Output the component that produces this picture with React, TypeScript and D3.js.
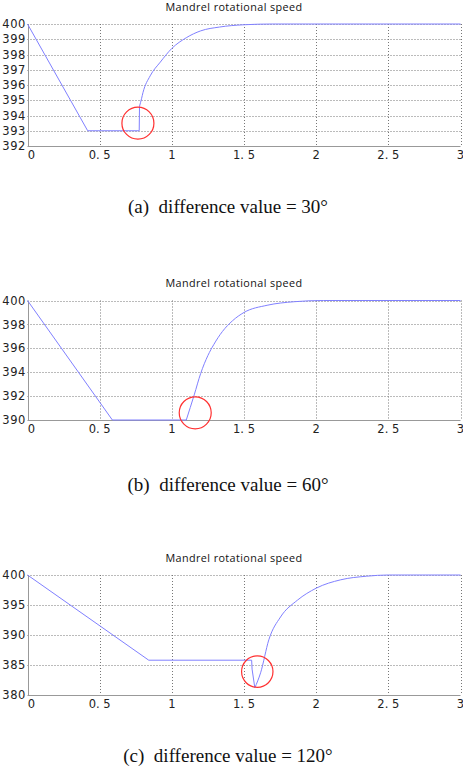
import * as d3 from "d3";

// ── Data ──────────────────────────────────────────────────────
const X_TICKS = [0, 0.5, 1, 1.5, 2, 2.5, 3];
const X_TICK_LABELS = ["0", "0. 5", "1", "1. 5", "2", "2. 5", "3"];

// (a) difference value = 30°
const T_A = [0, 0.417, 0.774, 0.776, 0.79, 0.80, 0.85, 0.92, 1.0, 1.1, 1.2, 1.33, 1.5, 1.7, 3];
const V_A = [400, 393, 393, 394.6, 395.1, 395.5, 396.6, 397.5, 398.4, 399.1, 399.55, 399.8, 399.95, 400, 400];
const Y_TICKS_A = [392, 393, 394, 395, 396, 397, 398, 399, 400];
const MARK_A = { t: 0.765, v: 393.5 };

// (b) difference value = 60°
const T_B = [0, 0.588, 1.10, 1.155, 1.2, 1.25, 1.29, 1.35, 1.42, 1.5, 1.66, 1.85, 2.05, 3];
const V_B = [400, 390, 390, 392.1, 393.9, 395.4, 396.3, 397.4, 398.3, 399.0, 399.6, 399.9, 400, 400];
const Y_TICKS_B = [390, 392, 394, 396, 398, 400];
const MARK_B = { t: 1.162, v: 390.6 };

// (c) difference value = 120°
const T_C = [0, 0.84, 1.553, 1.556, 1.575, 1.615, 1.672, 1.753, 1.87, 2.0, 2.17, 2.35, 2.5, 3];
const V_C = [400, 385.8, 385.8, 384.3, 381.2, 383.7, 389.2, 393, 395.8, 397.8, 399.2, 399.8, 400, 400];
const Y_TICKS_C = [380, 385, 390, 395, 400];
const MARK_C = { t: 1.592, v: 383.9 };

// index where the straight ramp/hold ends and the smooth recovery begins
const KNEE = [3, 2, 4];

const TITLE = "Mandrel rotational speed";
const CAPTIONS = ["(a)  difference value = 30°", "(b)  difference value = 60°", "(c)  difference value = 120°"];

// ── Layout ────────────────────────────────────────────────────
const W = 463;
const H = 767;
const LEFT = 27.5;
const RIGHT = 460.5;

interface Panel {
  t: number[];
  v: number[];
  knee: number;
  yTicks: number[];
  mark: { t: number; v: number };
  top: number;
  bottom: number;
  titleY: number;
  caption: string;
  captionY: number;
  r: number;
}

const PANELS: Panel[] = [
  { t: T_A, v: V_A, knee: KNEE[0], yTicks: Y_TICKS_A, mark: MARK_A, top: 24, bottom: 146, titleY: 10.5, caption: CAPTIONS[0], captionY: 213, r: 16 },
  { t: T_B, v: V_B, knee: KNEE[1], yTicks: Y_TICKS_B, mark: MARK_B, top: 300.5, bottom: 420, titleY: 286.5, caption: CAPTIONS[1], captionY: 490.5, r: 16 },
  { t: T_C, v: V_C, knee: KNEE[2], yTicks: Y_TICKS_C, mark: MARK_C, top: 575, bottom: 695, titleY: 561.5, caption: CAPTIONS[2], captionY: 762, r: 15.7 },
];

const LINE = "#8080ff";
const GRID = "#777";

function SpeedPanel({ p }: { p: Panel }) {
  const x = d3.scaleLinear().domain([0, 3]).range([LEFT, RIGHT]);
  const y = d3.scaleLinear().domain(d3.extent(p.yTicks) as [number, number]).range([p.bottom, p.top]);
  const pts: [number, number][] = p.t.map((t, i) => [t, p.v[i]]);
  const straight = d3
    .line<[number, number]>()
    .x((d) => x(d[0]))
    .y((d) => y(d[1]));
  const ramp = straight(pts.slice(0, p.knee + 1));
  const recovery = straight.curve(d3.curveMonotoneX)(pts.slice(p.knee));
  const snap = (n: number) => Math.round(n) + 0.5;

  return (
    <g>
      <text x={234} y={p.titleY} textAnchor="middle" fontFamily="'Open Sans', sans-serif" fontSize={10.8}
        letterSpacing={0.4} fill="#111">
        {TITLE}
      </text>

      {/* dotted grid */}
      {p.yTicks.slice(1).map((t) => (
        <line key={"gy" + t} x1={LEFT} x2={RIGHT} y1={snap(y(t))} y2={snap(y(t))}
          stroke={GRID} strokeDasharray="1,2" />
      ))}
      {X_TICKS.slice(1).map((t) => (
        <line key={"gx" + t} x1={snap(x(t))} x2={snap(x(t))} y1={p.top} y2={p.bottom}
          stroke={GRID} strokeDasharray="1,2" />
      ))}
      {/* axes */}
      <line x1={snap(LEFT)} x2={snap(LEFT)} y1={p.top} y2={snap(p.bottom)} stroke="#999" />
      <line x1={LEFT} x2={RIGHT} y1={snap(p.bottom)} y2={snap(p.bottom)} stroke="#999" />

      {/* tick labels */}
      {p.yTicks.map((t) => (
        <text key={"ly" + t} x={26} y={y(t)} dy="0.36em" textAnchor="end"
          fontFamily="'DejaVu Sans', sans-serif" fontSize={11.5} letterSpacing={0.6} fill="#222">
          {t}
        </text>
      ))}
      {X_TICKS.map((t, i) => (
        <text key={"lx" + t} x={Math.max(x(t), LEFT + 4)} y={p.bottom + 13} textAnchor="middle"
          fontFamily="'DejaVu Sans', sans-serif" fontSize={11.5} fill="#222">
          {X_TICK_LABELS[i]}
        </text>
      ))}

      <path d={ramp ?? ""} fill="none" stroke={LINE} strokeWidth={1} />
      <path d={recovery ?? ""} fill="none" stroke={LINE} strokeWidth={1} />
      <circle cx={x(p.mark.t)} cy={y(p.mark.v)} r={p.r} fill="none" stroke="#ff3030" strokeWidth={1.2} />

      <text x={228} y={p.captionY} textAnchor="middle" fontFamily="'Liberation Serif', serif" fontSize={19}
        fill="#111" style={{ whiteSpace: "pre" }}>
        {p.caption}
      </text>
    </g>
  );
}

export default function App() {
  return (
    <div style={{ position: "absolute", left: 0, top: 0, background: "#fff" }}>
      <svg width={W} height={H} style={{ display: "block" }}>
        <rect width={W} height={H} fill="#fff" />
        {PANELS.map((p, i) => (
          <SpeedPanel key={i} p={p} />
        ))}
      </svg>
    </div>
  );
}
